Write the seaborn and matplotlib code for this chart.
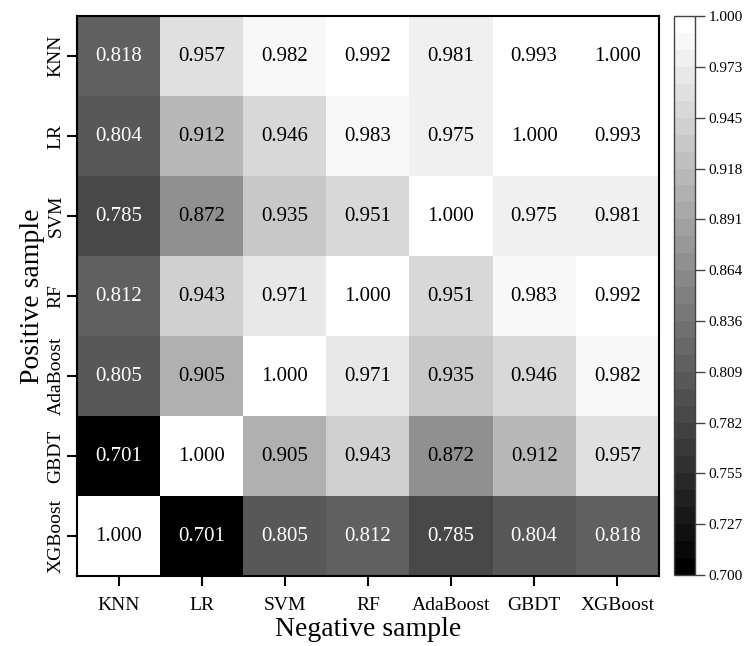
import numpy as np
import pandas as pd
import matplotlib
matplotlib.use("Agg")
import matplotlib.pyplot as plt
from matplotlib.colors import ListedColormap
import seaborn as sns

models = ['KNN', 'LR', 'SVM', 'RF', 'AdaBoost', 'GBDT', 'XGBoost']

knn = [0.818, 0.957, 0.982, 0.992, 0.981, 0.993, 1.000]
lr = [0.804, 0.912, 0.946, 0.983, 0.975, 1.000, 0.993]
svm = [0.785, 0.872, 0.935, 0.951, 1.000, 0.975, 0.981]
rf = [0.812, 0.943, 0.971, 1.000, 0.951, 0.983, 0.992]
ada = [0.805, 0.905, 1.000, 0.971, 0.935, 0.946, 0.982]
gbdt = [0.701, 1.000, 0.905, 0.943, 0.872, 0.912, 0.957]
xgb = [1.000, 0.701, 0.805, 0.812, 0.785, 0.804, 0.818]

df = pd.DataFrame([knn, lr, svm, rf, ada, gbdt, xgb], index=models, columns=models)

plt.rcParams['font.family'] = ['Liberation Serif', 'DejaVu Serif']

cmap = ListedColormap(plt.cm.gray(np.linspace(0, 1, 33)))

fig = plt.figure(figsize=(7.47, 6.46), dpi=100)
ax = fig.add_axes([0.103, 0.108, 0.779, 0.867])
cax = fig.add_axes([0.902, 0.110, 0.028, 0.865])

sns.heatmap(df, ax=ax, cbar_ax=cax, cmap=cmap, vmin=0.7, vmax=1.0,
            annot=True, fmt='.3f', annot_kws={'fontsize': 15})

# text colour: white on dark cells
for t in ax.texts:
    v = float(t.get_text())
    t.set_color('white' if v < 0.85 else 'black')

for s in ax.spines.values():
    s.set_visible(True)
    s.set_linewidth(1.5)
    s.set_color('black')

ax.tick_params(axis='both', length=7, width=1.5, labelsize=14, color='black')
ax.tick_params(axis='x', pad=8)
ax.tick_params(axis='y', pad=2)
ax.set_yticklabels(models, rotation=90, va='center')
ax.set_xticklabels(models, rotation=0)
ax.set_xlabel('Negative sample', fontsize=20, labelpad=2)
ax.set_ylabel('Positive sample', fontsize=20, labelpad=2)

cbar = ax.collections[0].colorbar
ticks = np.linspace(0.7, 1.0, 12)
cbar.set_ticks(ticks)
cbar.set_ticklabels([f'{t:.3f}' for t in ticks])
cbar.ax.tick_params(labelsize=11, length=7, width=1, pad=3, color='#444444')
cbar.outline.set_visible(True)
cbar.outline.set_edgecolor('#444444')
cbar.outline.set_linewidth(1)

plt.savefig('out.png', dpi=100)
